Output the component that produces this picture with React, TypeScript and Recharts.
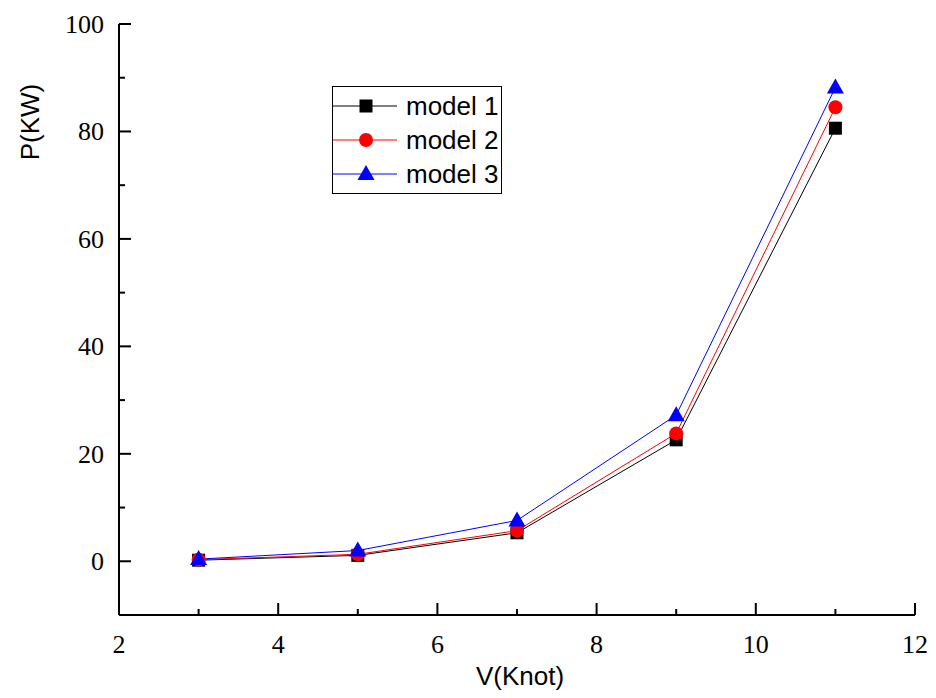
import { LineChart, Line, XAxis, YAxis, Customized } from "recharts";

const speeds = [3, 5, 7, 9, 11];
const model1 = [0.2, 1.1, 5.3, 22.6, 80.6];
const model2 = [0.3, 1.3, 5.7, 23.8, 84.5];
const model3 = [0.4, 2.0, 7.6, 27.2, 88.2];

const xTicks = [2, 3, 4, 5, 6, 7, 8, 9, 10, 11, 12];
const yTicks = [-10, 0, 10, 20, 30, 40, 50, 60, 70, 80, 90, 100];

const SERIES = [
  { key: "m1", name: "model 1", color: "#000000", shape: "square" },
  { key: "m2", name: "model 2", color: "#ff0000", shape: "circle" },
  { key: "m3", name: "model 3", color: "#0000ff", shape: "triangle" },
];

const data = speeds.map((v, i) => ({ v, m1: model1[i], m2: model2[i], m3: model3[i] }));

const SERIF = '"Liberation Serif", "DejaVu Serif", "Times New Roman", serif';
const SANS = '"Liberation Sans", Arial, sans-serif';

function Marker({ cx, cy, shape, color }: { cx: number; cy: number; shape: string; color: string }) {
  if (cx == null || cy == null) return null;
  if (shape === "square") return <rect x={cx - 6.5} y={cy - 6.5} width={13} height={13} fill={color} />;
  if (shape === "circle") return <circle cx={cx} cy={cy} r={7} fill={color} />;
  return <polygon points={`${cx},${cy - 9} ${cx - 8.5},${cy + 6} ${cx + 8.5},${cy + 6}`} fill={color} />;
}

function XTick({ x, y, payload }: any) {
  const major = payload.value % 2 === 0;
  return (
    <g>
      <line x1={x} y1={y} x2={x} y2={y - (major ? 12 : 6)} stroke="#000" strokeWidth={2} />
      {major && (
        <text x={x} y={y + 38} textAnchor="middle" fontFamily={SERIF} fontSize={26} fill="#000">
          {payload.value}
        </text>
      )}
    </g>
  );
}

function YTick({ x, y, payload }: any) {
  const major = payload.value % 20 === 0;
  return (
    <g>
      <line x1={x} y1={y} x2={x + (major ? 12 : 6)} y2={y} stroke="#000" strokeWidth={2} />
      {major && (
        <text x={x - 15} y={y + 9} textAnchor="end" fontFamily={SERIF} fontSize={26} fill="#000">
          {payload.value}
        </text>
      )}
    </g>
  );
}

function LegendBox() {
  return (
    <div
      style={{
        position: "absolute",
        left: 332,
        top: 86,
        border: "1.5px solid #000",
        width: 168,
        padding: "2px 0",
        background: "#fff",
      }}
    >
      {SERIES.map((s) => (
        <div key={s.key} style={{ display: "flex", alignItems: "center", height: 34 }}>
          <svg width={64} height={24} style={{ display: "block" }}>
            <line x1={0} y1={12} x2={64} y2={12} stroke={s.color} strokeWidth={1} />
            <Marker cx={33} cy={12} shape={s.shape} color={s.color} />
          </svg>
          <span style={{ fontFamily: SANS, fontSize: 26, marginLeft: 9, color: "#000", lineHeight: 1 }}>{s.name}</span>
        </div>
      ))}
    </div>
  );
}

function Titles() {
  return (
    <g>
      <text x={520} y={685} textAnchor="middle" fontFamily={SANS} fontSize={26} fill="#000">
        V(Knot)
      </text>
      <text
        x={39}
        y={122}
        transform="rotate(-90 39 122)"
        textAnchor="middle"
        fontFamily={SANS}
        fontSize={26}
        fill="#000"
      >
        P(KW)
      </text>
    </g>
  );
}

export default function App() {
  return (
    <div style={{ position: "absolute", left: 0, top: 0, width: 936, height: 698, background: "#fff" }}>
      <LineChart width={936} height={698} data={data} margin={{ top: 24, right: 21, left: 0, bottom: 0 }}>
        <XAxis
          dataKey="v"
          type="number"
          domain={[2, 12]}
          ticks={xTicks}
          interval={0}
          height={83}
          tickLine={false}
          tickSize={0}
          tickMargin={0}
          axisLine={{ stroke: "#000", strokeWidth: 2 }}
          tick={<XTick />}
        />
        <YAxis
          type="number"
          domain={[-10, 100]}
          ticks={yTicks}
          interval={0}
          width={119}
          tickLine={false}
          tickSize={0}
          tickMargin={0}
          axisLine={{ stroke: "#000", strokeWidth: 2 }}
          tick={<YTick />}
        />
        {SERIES.map((s) => (
          <Line
            key={s.key}
            dataKey={s.key}
            name={s.name}
            stroke={s.color}
            strokeWidth={1}
            isAnimationActive={false}
            dot={(p: any) => <Marker key={`${s.key}-${p.index}`} cx={p.cx} cy={p.cy} shape={s.shape} color={s.color} />}
            activeDot={false}
          />
        ))}
        <Customized component={Titles} />
      </LineChart>
      <LegendBox />
    </div>
  );
}
